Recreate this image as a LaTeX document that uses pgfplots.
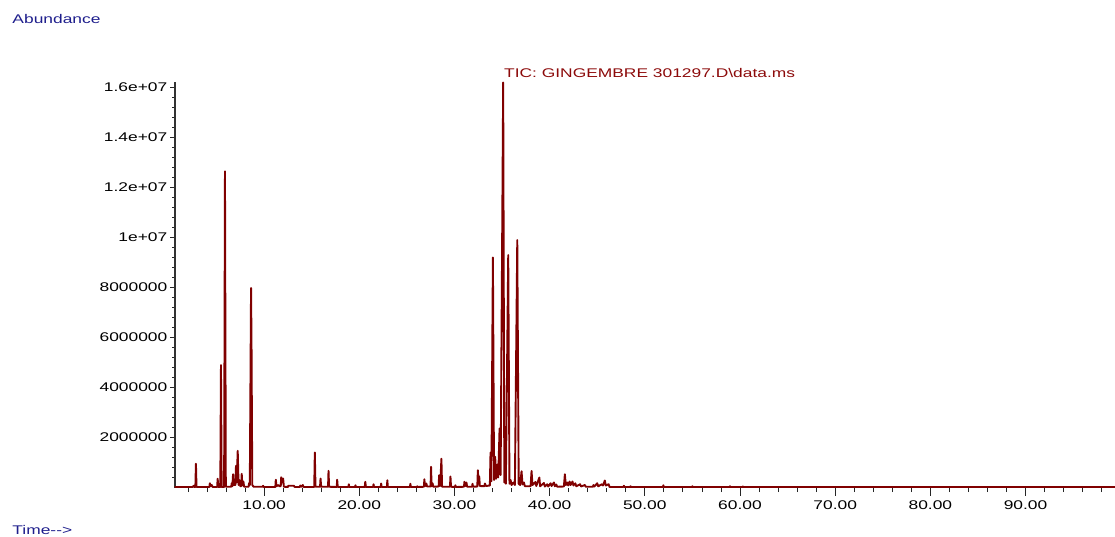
\documentclass[border=0pt]{standalone}
\usepackage{pgfplots}
\pgfplotsset{compat=1.18}
\usepackage{fontspec}
\setmainfont{Liberation Sans}[FakeStretch=1.38]
\definecolor{trace}{RGB}{128,0,0}
\definecolor{titlered}{RGB}{140,10,10}
\definecolor{labelblue}{RGB}{30,30,140}

% axis box: 940 x 405.5 (1pt = 1px of the 1115x536 picture)
\pgfplotsset{chrom/.style={
  at={(0pt,0pt)}, anchor=south west,
  scale only axis, width=940pt, height=405.5pt,
  xmin=0.64, xmax=99.4, ymin=0, ymax=16.22,
  tick align=outside,
  tick style={black!85, line width=0.8pt},
  axis line style={-},
  clip=false,
}}

\begin{document}
\fontsize{12.6}{15}\selectfont
\begin{tikzpicture}
\path[use as bounding box] (-175pt,-48.5pt) rectangle (940pt,487.5pt);

% y axis and the trace (abundance in units of 1e6)
\begin{axis}[chrom,
  axis x line*=bottom, axis y line*=left,
  x axis line style={draw=none},
  y axis line style={draw=black!80, line width=1.5pt},
  xtick=\empty,
  ytick={2,4,6,8,10,12,14,16},
  yticklabels={\mbox{2000000},\mbox{4000000},\mbox{6000000},\mbox{8000000},
    \mbox{1e+07},\mbox{1.2e+07},\mbox{1.4e+07},\mbox{1.6e+07}},
  minor ytick={0.4,0.8,...,16},
  major tick length=4.5pt, minor tick length=2.5pt,
  yticklabel style={anchor=east, inner sep=0pt, xshift=-3pt},
]
\addplot[trace, line width=1.9pt, line join=round, mark=none] coordinates {
(0.6,0.02) (2.5,0.02) (2.6,0.07) (2.7,0.02) (2.78,0.02) (2.84,0.95) (2.9,0.02)
(4.25,0.02) (4.3,0.17) (4.4,0.05) (4.5,0.10) (4.6,0.02)
(5.07,0.02) (5.12,0.35) (5.2,0.02)
(5.4,0.02) (5.47,4.9) (5.54,0.02)
(5.8,0.02) (5.89,12.65) (5.98,0.03)
(6.55,0.03) (6.6,0.17) (6.67,0.05) (6.74,0.53) (6.8,0.1) (6.98,0.1) (7.05,0.87)
(7.12,0.2) (7.23,1.47) (7.32,0.1) (7.4,0.30) (7.5,0.05) (7.6,0.05) (7.65,0.55)
(7.72,0.08) (7.83,0.24) (7.9,0.03)
(8.37,0.03) (8.42,0.17) (8.5,0.1) (8.63,7.98) (8.68,5.7) (8.76,0.1) (8.9,0.03)
(9.85,0.03) (9.9,0.07) (9.95,0.02)
(11.18,0.02) (11.23,0.31) (11.3,0.05) (11.5,0.10) (11.6,0.05) (11.75,0.05)
(11.8,0.41) (11.9,0.2) (12.0,0.36) (12.08,0.03)
(12.5,0.02) (12.55,0.07) (13.15,0.07) (13.2,0.02)
(13.75,0.02) (13.8,0.08) (13.9,0.03) (14.07,0.10) (14.15,0.02)
(15.27,0.02) (15.33,1.4) (15.4,0.03)
(15.88,0.03) (15.93,0.36) (16.0,0.03)
(16.72,0.03) (16.77,0.67) (16.83,0.03)
(17.63,0.02) (17.68,0.31) (17.74,0.02)
(18.85,0.02) (18.9,0.13) (18.95,0.02)
(19.55,0.02) (19.6,0.09) (19.65,0.02)
(20.58,0.02) (20.63,0.23) (20.7,0.02)
(21.45,0.02) (21.5,0.13) (21.55,0.02)
(22.25,0.02) (22.3,0.16) (22.35,0.02)
(22.9,0.02) (22.95,0.29) (23.0,0.02)
(25.32,0.02) (25.37,0.15) (25.42,0.02)
(26.05,0.02) (26.1,0.05) (26.15,0.02)
(26.79,0.03) (26.84,0.33) (26.9,0.05) (27.05,0.16) (27.12,0.04)
(27.49,0.04) (27.54,0.83) (27.6,0.05) (27.7,0.17) (27.77,0.03)
(28.34,0.04) (28.39,0.49) (28.5,0.06) (28.63,1.15) (28.7,0.03)
(29.53,0.03) (29.58,0.44) (29.64,0.03)
(30.05,0.02) (30.1,0.09) (30.15,0.02)
(31.0,0.03) (31.05,0.23) (31.15,0.06) (31.26,0.20) (31.33,0.03)
(31.85,0.03) (31.9,0.15) (31.95,0.03)
(32.4,0.04) (32.46,0.69) (32.53,0.15) (32.6,0.45) (32.67,0.06)
(33.15,0.05) (33.2,0.16) (33.3,0.06)
(33.72,0.08) (33.79,1.4) (33.88,0.25) (34.04,9.2) (34.16,0.3) (34.28,1.23)
(34.38,0.35) (34.5,0.92) (34.6,0.4) (34.74,2.36) (34.85,0.5) (35.12,16.2)
(35.24,0.2) (35.3,0.35) (35.4,0.15) (35.65,9.3) (35.78,0.15) (35.9,0.30)
(36.0,0.1) (36.2,0.20) (36.35,0.1) (36.6,9.9) (36.75,0.15) (36.9,0.1)
(37.05,0.65) (37.15,0.12) (37.3,0.20) (37.4,0.05)
(38.0,0.05) (38.1,0.66) (38.2,0.1) (38.5,0.22) (38.6,0.06) (38.92,0.40)
(39.0,0.05) (39.4,0.18) (39.5,0.04) (39.75,0.13) (39.85,0.04) (40.1,0.17)
(40.2,0.06) (40.45,0.20) (40.55,0.05) (40.7,0.12) (40.8,0.03)
(41.5,0.04) (41.6,0.53) (41.7,0.1) (41.85,0.2) (41.95,0.08) (42.1,0.24)
(42.2,0.1) (42.4,0.24) (42.5,0.08) (42.7,0.17) (42.8,0.05) (43.2,0.13)
(43.3,0.04) (43.7,0.10) (43.8,0.03)
(44.55,0.03) (44.6,0.10) (44.7,0.04) (45.0,0.17) (45.1,0.05) (45.5,0.13)
(45.6,0.08) (45.8,0.28) (45.9,0.08) (46.2,0.13) (46.3,0.02)
(47.75,0.02) (47.8,0.07) (47.85,0.02) (48.45,0.02) (48.5,0.05) (48.55,0.02)
(51.9,0.02) (51.95,0.09) (52.0,0.02)
(54.95,0.02) (55.0,0.05) (55.05,0.02)
(58.9,0.02) (58.95,0.05) (59.0,0.02)
(60.25,0.02) (60.3,0.04) (60.35,0.02)
(99.4,0.02)
};
\end{axis}

% x axis ticks (longer than the y ones)
\begin{axis}[chrom,
  axis x line*=bottom, axis y line=none,
  x axis line style={draw=none},
  ytick=\empty,
  xtick={10,20,30,40,50,60,70,80,90},
  xticklabels={\mbox{10.00},\mbox{20.00},\mbox{30.00},\mbox{40.00},\mbox{50.00},
    \mbox{60.00},\mbox{70.00},\mbox{80.00},\mbox{90.00}},
  minor xtick={2,4,...,98},
  major tick length=8pt, minor tick length=4.5pt,
  xticklabel style={anchor=north, inner sep=0pt, yshift=-5pt},
]
\addplot[draw=none] coordinates {(10,0)};
\end{axis}

\node[anchor=base west, inner sep=0pt, text=labelblue] at (-162.7pt,463.5pt) {Abundance};
\node[anchor=base west, inner sep=0pt, text=labelblue] at (-162.7pt,-47pt) {Time-\kern0pt-\kern0pt>};
\node[anchor=base west, inner sep=0pt, text=titlered] at (329pt,410.2pt) {TIC: GINGEMBRE 301297.D\textbackslash data.ms};
\end{tikzpicture}
\end{document}
